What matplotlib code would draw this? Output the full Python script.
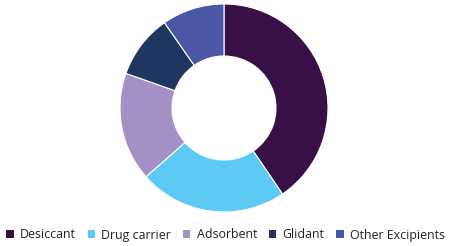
import matplotlib
matplotlib.use("Agg")
import matplotlib.pyplot as plt
from matplotlib.patches import Patch

categories = ["Desiccant", "Drug carrier", "Adsorbent", "Glidant", "Other Excipients"]
values = [40.5, 23.0, 16.9, 9.9, 9.7]
colors = ["#361046", "#5BCBF5", "#A390C4", "#1E3660", "#4A57A4"]

plt.rcParams['font.family'] = ['Open Sans', 'DejaVu Sans']

fig = plt.figure(figsize=(4.52, 2.46), dpi=100)

ax2 = fig.add_axes([(224 - 104) / 452, 1 - (108 + 104) / 246, 208 / 452, 208 / 246])
ax2.pie(values, colors=colors, startangle=90, counterclock=False,
        radius=1.0, wedgeprops=dict(width=0.5, edgecolor='white', linewidth=0.8))
ax2.set_xlim(-1, 1)
ax2.set_ylim(-1, 1)
ax2.set_aspect('equal')
ax2.axis('off')

handles = [Patch(facecolor=c, edgecolor='none') for c in colors]
fig.legend(handles, categories, loc='center', bbox_to_anchor=(225.5 / 452, 1 - 235 / 246),
           ncol=5, frameon=False, fontsize=8.95, handlelength=0.6, handleheight=0.6,
           handletextpad=0.5, columnspacing=0.95, labelcolor='#222222',
           borderpad=0, borderaxespad=0)

fig.savefig("out.png", dpi=100)
